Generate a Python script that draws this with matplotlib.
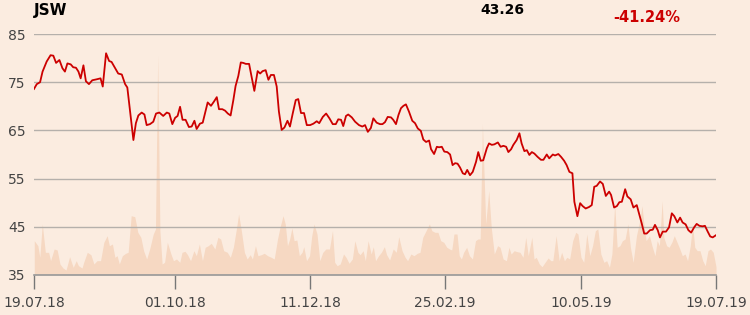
import matplotlib
matplotlib.use('Agg')
import matplotlib.pyplot as plt

# 価格 (trading-day position, close)
price_t = [0, 1.0, 2.2, 3.1, 4.6, 6.0, 7.0, 8.0, 9.2, 10.3, 11.2, 12.1, 13.3, 14.2, 15.2, 16.1, 16.9, 17.9,
           18.8, 19.9, 21.1, 22.7, 24.1, 24.9, 26.1, 27.2, 28.1, 29.3, 30.5, 31.8, 33.0, 33.8, 34.8, 36.0,
           36.9, 37.8, 39.0, 40.0, 40.8, 42.0, 43.2, 44.2, 45.4, 46.8, 48.1, 49.0, 50.1, 51.1, 52.0, 52.9,
           53.8, 54.9, 56.1, 57.1, 58.1, 58.9, 60.1, 61.1, 62.2, 62.9, 64.1, 65.2, 66.2, 67.0, 68.2, 69.2,
           70.2, 71.2, 72.2, 73.0, 74.0, 74.9, 75.8, 76.7, 77.9, 78.8, 79.8, 81.0, 81.9, 82.8, 83.9, 84.9,
           85.8, 86.9, 87.9, 88.7, 89.7, 90.7, 91.8, 92.7, 93.7, 94.8, 95.7, 96.7, 97.8, 98.8, 100.0, 101.2,
           102.4, 103.3, 104.6, 105.8, 107.0, 108.2, 109.3, 110.2, 111.2, 112.0, 113.0, 113.8, 115.1, 116.3,
           117.7, 118.9, 119.9, 120.9, 122.0, 122.9, 124.1, 125.3, 126.2, 127.1, 128.1, 129.3, 130.1, 131.1,
           132.0, 132.9, 133.8, 134.7, 135.8, 137.0, 138.0, 139.0, 140.1, 141.0, 142.0, 143.1, 143.8, 144.9,
           145.9, 146.7, 147.7, 148.6, 149.7, 150.7, 151.6, 152.5, 153.4, 154.3, 155.3, 156.1, 156.9, 157.9,
           158.9, 160.1, 160.9, 161.8, 162.7, 164.0, 164.8, 165.8, 166.7, 168.0, 169.0, 170.0, 171.0, 171.8,
           172.8, 173.6, 174.8, 175.8, 176.6, 177.6, 178.5, 179.4, 180.3, 181.2, 182.4, 183.6, 184.5, 185.7,
           186.6, 187.9, 188.7, 189.9, 190.9, 192.0, 192.9, 193.9, 195.0, 195.7, 196.8, 197.8, 198.7, 199.8,
           201.0, 202.0, 202.9, 203.8, 205.0, 206.0, 207.1, 208.3, 209.0, 210.1, 211.1, 212.0, 212.9, 214.1,
           214.9, 216.1, 217.1, 218.3, 219.1, 220.1, 221.0, 221.9, 223.1, 224.1, 224.9, 225.9, 226.7, 227.7,
           228.9, 230.0, 231.0, 231.9, 233.0, 234.0, 234.9, 236.0, 237.0, 238.0, 239.1, 240.0, 241.0, 242.1,
           243.0, 244.0, 244.9, 245.8, 247.0]
price = [73.6, 74.6, 75.0, 77.2, 79.3, 80.6, 80.5, 79.0, 79.6, 77.9, 77.2, 78.9, 78.7, 78.1, 78.0, 77.2, 75.8, 78.5,
         75.2, 74.6, 75.4, 75.6, 75.8, 74.1, 81.0, 79.4, 79.2, 78.0, 76.8, 76.6, 74.6, 73.9, 68.9, 63.0,
         66.5, 68.1, 68.7, 68.3, 66.1, 66.3, 66.8, 68.5, 68.7, 68.0, 68.7, 68.5, 66.3, 67.6, 68.0, 69.9,
         67.2, 67.2, 65.7, 65.8, 67.0, 65.3, 66.4, 66.6, 69.2, 70.8, 70.1, 71.0, 71.9, 69.4, 69.4, 69.1,
         68.5, 68.1, 71.3, 74.2, 76.3, 79.1, 79.0, 78.8, 78.8, 76.1, 73.2, 77.3, 76.8, 77.3, 77.5, 75.5,
         76.5, 76.5, 74.1, 68.9, 65.1, 65.6, 67.0, 65.8, 68.5, 71.3, 71.5, 68.6, 68.6, 66.1, 66.1, 66.4,
         66.9, 66.5, 67.8, 68.5, 67.5, 66.3, 66.3, 67.3, 67.2, 65.9, 68.0, 68.3, 67.7, 66.8,
         66.1, 65.8, 66.1, 64.7, 65.5, 67.5, 66.6, 66.3, 66.3, 66.7, 67.8, 67.7, 67.2, 66.3,
         68.2, 69.6, 70.1, 70.4, 68.9, 67.0, 66.5, 65.4, 64.9, 63.1, 62.6, 62.9, 61.1, 60.1,
         61.6, 61.5, 61.6, 60.6, 60.5, 60.0, 57.8, 58.2, 58.1, 57.3, 56.1, 55.9, 56.8, 55.7,
         56.4, 58.5, 60.5, 58.7, 58.8, 61.3, 62.3, 62.0, 62.1, 62.5, 61.6, 61.8, 61.6, 60.5,
         61.1, 62.0, 63.0, 64.4, 62.3, 60.7, 60.9, 59.9, 60.5, 60.2, 59.5, 58.9, 58.9, 60.0,
         59.2, 60.0, 59.8, 60.1, 59.5, 58.7, 57.8, 56.4, 56.1, 50.2, 47.2, 49.9, 49.3, 48.8,
         49.1, 49.5, 53.3, 53.5, 54.4, 53.9, 51.4, 52.3, 51.6, 49.0, 49.3, 50.1, 50.2, 52.8,
         51.3, 50.7, 49.0, 49.5, 47.8, 45.7, 43.6, 43.6, 44.3, 44.4, 45.4, 44.3, 42.8, 44.0,
         44.0, 44.9, 47.8, 47.2, 45.9, 46.9, 45.9, 45.5, 44.3, 43.8, 44.9, 45.6, 45.2, 45.1,
         45.2, 44.0, 43.0, 42.8, 43.26]

# 成交量 (million shares)
vol_t = [0.1, 1.4, 2.1, 3.0, 4.1, 5.3, 6.0, 7.3, 8.4, 9.4, 10.5, 11.6, 12.9, 14.2, 15.3, 16.1, 17.4, 18.0,
         19.3, 20.6, 21.7, 22.8, 24.1, 25.3, 26.5, 27.3, 28.4, 29.3, 30.1, 30.9, 32.0, 33.2, 34.1, 35.2,
         36.5, 37.6, 38.7, 39.7, 40.8, 41.9, 43.2, 44.0, 44.8, 45.6, 46.4, 47.3, 48.3, 49.6, 50.5, 51.6,
         52.8, 53.6, 54.7, 55.6, 56.7, 57.9, 58.8, 59.9, 61.0, 62.0, 63.1, 64.2, 65.5, 66.6, 67.6, 68.7,
         70.0, 71.1, 72.2, 73.2, 74.1, 75.1, 76.2, 77.2, 78.3, 79.1, 80.2, 81.1, 82.3, 83.4, 84.6, 85.9,
         87.0, 88.2, 89.1, 90.2, 91.0, 91.8, 92.6, 93.4, 94.2, 95.2, 96.1, 97.1, 97.7, 98.7, 99.8, 100.6,
         101.4, 102.5, 103.5, 104.6, 105.7, 107.0, 108.1, 108.9, 109.8, 110.9, 112.1, 113.0, 114.1, 115.3,
         116.2, 117.3, 118.1, 119.2, 120.0, 121.0, 122.1, 122.9, 123.7, 124.8, 125.8, 126.9, 127.7, 128.8,
         130.1, 131.2, 132.1, 133.3, 134.4, 135.3, 136.5, 137.6, 138.8, 139.8, 140.8, 142.0, 143.2, 144.1,
         145.2, 146.3, 147.3, 148.4, 149.5, 150.5, 151.3, 152.1, 153.2, 154.0, 154.8, 155.6, 156.7, 157.7,
         158.8, 159.9, 160.8, 161.6, 162.4, 163.6, 164.7, 165.6, 166.7, 167.9, 168.8, 169.9, 171.1, 172.0,
         172.8, 173.9, 175.0, 176.0, 177.1, 178.1, 179.0, 180.3, 181.1, 181.9, 183.0, 184.0, 185.1, 186.2,
         187.2, 187.9, 189.1, 190.2, 191.1, 192.1, 193.0, 194.0, 195.1, 196.2, 197.0, 198.1, 199.1, 200.2,
         201.3, 202.3, 203.3, 204.2, 205.3, 206.4, 207.4, 208.4, 209.3, 210.3, 211.2, 212.2, 213.1, 214.1,
         215.1, 216.0, 217.0, 218.2, 219.4, 220.2, 221.0, 221.7, 222.9, 223.8, 224.9, 225.7, 226.5, 227.5,
         228.1, 229.1, 230.0, 231.0, 231.9, 232.9, 233.9, 234.8, 235.8, 236.7, 237.7, 238.5, 239.3, 240.2,
         241.2, 242.2, 243.1, 244.1, 245.0, 246.0, 247.0]
vol = [3.43, 2.93, 1.77, 5.10, 2.27, 2.27, 1.43, 2.60, 2.50, 1.10, 0.70, 0.50, 1.83, 0.77, 1.43, 0.93, 0.70, 1.27,
       2.27, 2.03, 1.10, 1.43, 1.43, 3.27, 3.93, 2.93, 3.10, 1.77, 1.93, 1.10, 1.93, 2.17, 2.27, 5.93,
       5.83, 4.27, 3.77, 2.43, 1.60, 2.60, 4.10, 4.60, 22.0, 4.43, 1.10, 1.27, 3.27, 2.10, 1.43, 1.60,
       1.27, 2.27, 2.37, 2.03, 1.43, 2.43, 1.93, 3.10, 1.43, 2.77, 2.93, 3.17, 2.60, 3.77, 3.60, 2.43,
       2.27, 1.77, 2.77, 4.43, 6.10, 4.43, 2.27, 1.60, 2.03, 1.60, 2.93, 1.93, 2.03, 2.17, 1.93, 1.77,
       1.60, 3.60, 4.77, 5.93, 5.10, 2.93, 3.60, 4.70, 3.43, 3.50, 1.93, 2.27, 2.83, 1.43, 1.93, 3.93,
       5.10, 4.10, 1.43, 2.27, 2.60, 2.60, 4.43, 1.27, 0.93, 1.10, 2.10, 1.77, 1.17, 1.60,
       3.43, 2.27, 2.03, 2.43, 1.43, 3.43, 2.10, 2.83, 1.43, 1.93, 2.27, 2.83, 2.03, 1.50,
       2.60, 2.27, 3.83, 2.43, 1.77, 1.43, 2.10, 1.93, 2.17, 2.27, 3.77, 4.43, 5.10, 4.43,
       4.27, 4.27, 3.43, 3.27, 2.77, 2.60, 2.50, 4.10, 4.10, 1.93, 1.60, 2.27, 2.77, 1.93,
       1.60, 3.43, 3.60, 3.60, 15.1, 5.10, 8.43, 4.77, 2.10, 2.93, 2.77, 1.60, 1.43, 2.77,
       2.10, 2.43, 2.33, 2.27, 1.77, 3.77, 1.93, 3.77, 1.60, 1.77, 1.10, 0.83, 1.27, 1.70,
       1.43, 1.43, 3.93, 1.43, 2.27, 1.43, 1.77, 1.60, 3.43, 4.27, 4.10, 1.77, 1.27, 4.10,
       1.93, 2.93, 4.43, 4.60, 2.10, 1.27, 1.43, 0.77, 2.10, 7.10, 2.77, 2.93, 3.43, 3.60,
       5.10, 2.77, 1.27, 3.93, 5.43, 6.93, 4.77, 3.43, 3.93, 2.93, 1.93, 3.43, 2.93, 7.43,
       3.77, 2.93, 2.77, 3.27, 3.93, 3.27, 2.60, 1.93, 2.10, 1.43, 2.93, 5.10, 2.77, 2.43,
       2.43, 1.43, 0.93, 2.43, 2.60, 2.27, 0.83]

tick_t = [0, 51.1, 100.0, 148.9, 198.1, 247]
tick_labels = ['19.07.18', '01.10.18', '11.12.18', '25.02.19', '10.05.19', '19.07.19']
y_ticks = [35, 45, 55, 65, 75, 85]

bg = '#fbece0'
red = '#cc0000'

fig = plt.figure(figsize=(7.5, 3.15), dpi=100, facecolor=bg)
ax = fig.add_axes([34 / 750, 40 / 315, 682 / 750, 241 / 315])
ax2 = ax.twinx()

# 成交量 area (behind)
ax2.fill_between(vol_t, 0, vol, color='#f6d8c2', linewidth=0)
ax2.set_ylim(0, 24.1)
ax2.set_yticks([])
ax2.set_facecolor(bg)
for s in ax2.spines.values():
    s.set_visible(False)

ax.set_zorder(ax2.get_zorder() + 1)
ax.patch.set_visible(False)

ax.plot(price_t, price, color=red, linewidth=1.3, zorder=3)

ax.set_xlim(0, 247)
ax.set_ylim(35, 85)
ax.set_yticks(y_ticks)
ax.set_xticks(tick_t)
ax.set_xticklabels(tick_labels)
ax.grid(axis='y', color='#b5b0ab', linewidth=1.0)
ax.grid(axis='x', visible=False)
ax.tick_params(axis='y', length=0, pad=6, labelsize=10, labelcolor='#444444')
ax.tick_params(axis='x', length=10, width=1, color='#777777', pad=5, labelsize=10, labelcolor='#444444')
for k in ['left', 'right', 'top']:
    ax.spines[k].set_visible(False)
ax.spines['bottom'].set_color('#999999')
ax.spines['bottom'].set_linewidth(1.2)

fig.text(34 / 750, 1 - 11 / 315, 'JSW', fontsize=11, fontweight='bold', color='black', va='center', ha='left')
fig.text(502 / 750, 1 - 10 / 315, '43.26', fontsize=10, fontweight='bold', color='black', va='center', ha='center')
fig.text(647 / 750, 1 - 17 / 315, '-41.24%', fontsize=10.5, fontweight='bold', color=red, va='center', ha='center')

fig.savefig('out.png', dpi=100, facecolor=bg)
